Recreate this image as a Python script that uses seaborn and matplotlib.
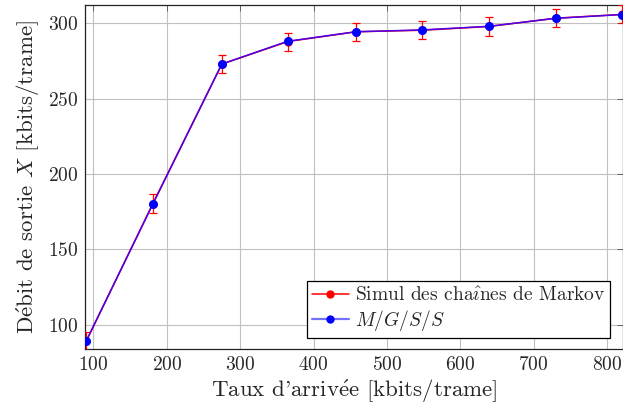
#!/usr/bin/env python3

import matplotlib
matplotlib.use("Agg")
import matplotlib.pyplot as plt
from matplotlib.lines import Line2D
import pandas as pd
import seaborn as sns

# arrival rate [kbits/trame]
taux = [90, 181, 275, 365, 458, 548, 639, 730, 820]
# Markov chain simulation and M/G/S/S model output
markov = [89.0, 180.5, 273.0, 288.0, 294.5, 295.5, 298.0, 303.5, 306.0]
markov_err = [6.0, 6.0, 6.0, 6.0, 6.0, 6.0, 6.0, 6.0, 6.0]
mgss = [89.2, 180.2, 273.1, 288.2, 294.5, 295.7, 298.1, 303.4, 305.9]

df = pd.DataFrame({"taux": taux, "markov": markov, "err": markov_err, "mgss": mgss})

sns.set_style("white")
plt.rcParams["font.family"] = ["cmr10", "DejaVu Serif"]
plt.rcParams["mathtext.fontset"] = "cm"
plt.rcParams["axes.formatter.use_mathtext"] = True
plt.rcParams["axes.unicode_minus"] = False

E_ACUTE = r"$\mathrm{\acute{e}}$"
I_HAT = r"$\mathrm{\hat{\imath}}$"
lbl_markov = "Simul des cha" + I_HAT + "nes de Markov"
lbl_mgss = "$M/G/S/S$"

fig = plt.figure(figsize=(6.23, 4.11), dpi=100)
ax = fig.add_axes([0.1364, 0.151, 0.8636, 0.837])

ax.errorbar(df["taux"], df["markov"], yerr=df["err"], fmt="none", ecolor="red",
            elinewidth=0.9, capsize=3, capthick=0.9, zorder=3)
sns.lineplot(data=df, x="taux", y="markov", ax=ax, color="red", marker="o",
             markersize=6, markeredgewidth=0, linewidth=1.1, zorder=2)
sns.lineplot(data=df, x="taux", y="mgss", ax=ax, color="#4800ee", marker="o",
             markersize=6.5, markeredgewidth=0, markerfacecolor="blue",
             linewidth=1.1, zorder=4)

ax.set_xlim(88.4, 822)
ax.set_ylim(84, 312.3)
ax.set_xticks([100, 200, 300, 400, 500, 600, 700, 800])
ax.set_yticks([100, 150, 200, 250, 300])
ax.grid(True, color="#c0c0c0", linewidth=0.8)
ax.tick_params(direction="in", top=True, right=True, length=4, width=0.6,
               color="#555555", labelsize=14, pad=5)
for s in ax.spines.values():
    s.set_color("#222222")
    s.set_linewidth(0.9)

ax.set_xlabel("Taux d'arriv" + E_ACUTE + "e [kbits/trame]", fontsize=16.5, labelpad=3)
ax.set_ylabel("D" + E_ACUTE + "bit de sortie $X$ [kbits/trame]", fontsize=16.5, labelpad=4)

handles = [
    Line2D([], [], color="red", marker="o", markersize=6, markeredgewidth=0, linewidth=1.1),
    Line2D([], [], color=(0.45, 0.45, 1.0), marker="o", markersize=6,
           markeredgewidth=0, markerfacecolor="blue", linewidth=1.6),
]
leg = ax.legend(handles, [lbl_markov, lbl_mgss], loc="lower right",
                bbox_to_anchor=(0.976, 0.033), fontsize=14, frameon=True,
                fancybox=False, framealpha=1, edgecolor="black", borderpad=0.25,
                handlelength=1.9, handletextpad=0.3, labelspacing=0.15,
                borderaxespad=0)
leg.get_frame().set_linewidth(0.9)

plt.savefig("out.png", dpi=100)
